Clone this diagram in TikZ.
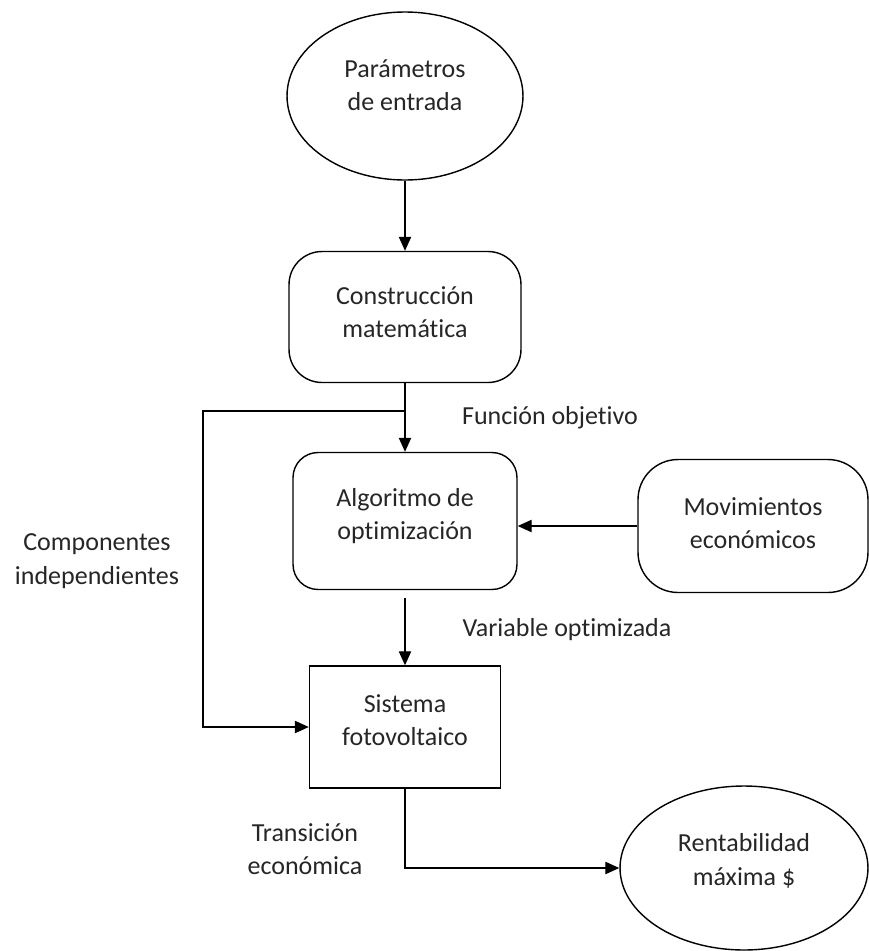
\documentclass[tikz,border=0pt]{standalone}
\usepackage{fontspec}
\setmainfont{Carlito}[Ligatures=NoCommon]
\usetikzlibrary{shapes.geometric,arrows.meta}
\tikzset{
	oval/.style={draw, ellipse, line width=0.8pt, inner sep=0pt},
	roundbox/.style={draw, rectangle, line width=0.8pt, inner sep=0pt},
	txt/.style={align=center, text=black!85, font=\fontsize{14.8}{19}\selectfont},
	flow/.style={-{Triangle[length=8pt,width=7pt]}, line width=0.8pt},
}
\begin{document}
\begin{tikzpicture}[x=0.02cm, y=-0.02cm]
				\useasboundingbox (0,0) rectangle (869,951);
				
				% input
				\node[oval, minimum width=4.72cm, minimum height=3.36cm] (par) at (405,96){};
				\node[txt] (parT) at (405,85){Parámetros\\de entrada};
				
				% math construction
				\node[roundbox, rounded corners=0.66cm, minimum width=4.64cm, minimum height=2.62cm] (cons) at (405,317){};
				\node[txt] (consT) at (405,312){Construcción\\matemática};
				
				% optimization
				\node[roundbox, rounded corners=0.5cm, minimum width=4.48cm, minimum height=2.74cm] (alg) at (405,521){};
				\node[txt] (algT) at (405,516){Algoritmo de\\optimización};
				\node[roundbox, rounded corners=0.8cm, minimum width=4.6cm, minimum height=2.66cm] (mov) at (753,526){};
				\node[txt] (movT) at (753,523){Movimientos\\económicos};
				
				% pv system
				\node[roundbox, minimum width=3.82cm, minimum height=2.44cm] (sis) at (405,727){};
				\node[txt] (sisT) at (405,720){Sistema\\fotovoltaico};
				
				% output
				\node[oval, minimum width=4.96cm, minimum height=3.28cm] (ren) at (744,868){};
				\node[txt] (renT) at (744,861){Rentabilidad\\máxima \$};
				
				% labels
				\node[txt] (fun) at (550,418){Función objetivo};
				\node[txt] (var) at (567,630){Variable optimizada};
				\node[txt] (comp) at (97,561){Componentes\\independientes};
				\node[txt] (tran) at (305,849){Transición\\económica};
				
				% connectors
				\coordinate (split) at (405,411);
				\coordinate (left) at (203,411);
				\draw[flow] (par) -- (cons);
				\draw[flow] (cons) -- (alg);
				\draw[flow] (split) -- (left) |- (sis.west);
				\draw[flow] (mov.west) -- (alg.east |- mov.west);
				\draw[flow, shorten <=0.16cm] (alg) -- (sis);
				\draw[flow] (sis.south) |- (ren.west);
				
\end{tikzpicture}
\end{document}
